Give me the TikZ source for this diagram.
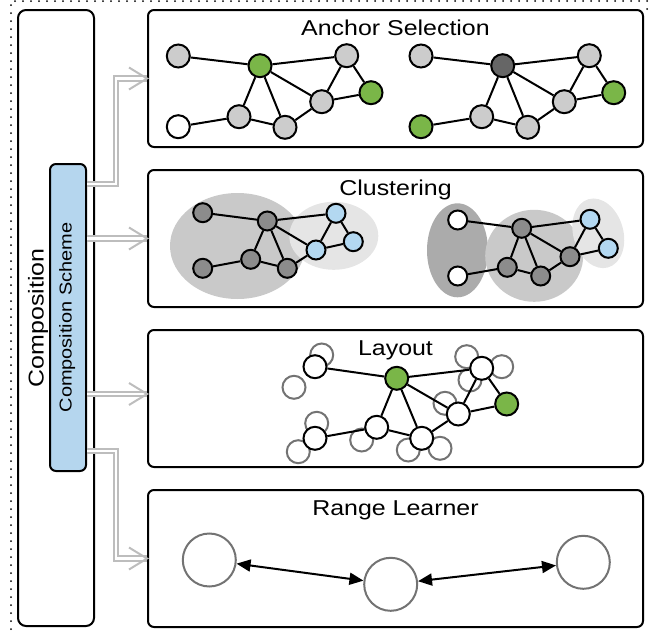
\documentclass[tikz,border=0pt]{standalone}
\usepackage{fontspec}
\setmainfont{Liberation Sans}[FakeStretch=1.16]
\usetikzlibrary{positioning,arrows.meta,shapes.geometric}
\definecolor{vgray}{HTML}{CCCCCC}
\definecolor{vgreen}{HTML}{7AB648}
\definecolor{vdark}{HTML}{666666}
\definecolor{vclus}{HTML}{8C8C8C}
\definecolor{vblue}{HTML}{B3D8F1}
\definecolor{schemeblue}{HTML}{B5D6EE}
\definecolor{flowgray}{HTML}{BDBDBD}
\definecolor{ghostgray}{HTML}{737373}
\definecolor{blobmid}{HTML}{C9C9C9}
\definecolor{bloblight}{HTML}{E5E5E5}
\definecolor{blobdark}{HTML}{ABABAB}

\begin{document}
\begin{tikzpicture}[
  x=1pt, y=-1pt,
  panel/.style={draw,line width=2pt,rounded corners=6pt,minimum width=495pt,minimum height=137pt,inner sep=0pt},
  heading/.style={anchor=base,inner sep=0pt,font=\fontsize{21.5}{25}\selectfont},
  vx/.style={draw,circle,line width=2pt,minimum size=23pt,inner sep=0pt},
  vsm/.style={vx,minimum size=19pt},
  ghost/.style={draw=ghostgray,circle,line width=2pt,minimum size=23pt,inner sep=0pt},
  blob/.style={ellipse,inner sep=0pt},
  link/.style={line width=2pt},
  flow/.style={draw=flowgray,line width=2pt,double=white,double distance=2.8pt},
  flowtip/.style={draw=flowgray,line width=2pt},
  rnode/.style={draw=ghostgray,circle,line width=2pt,minimum size=53pt,inner sep=0pt},
  biarrow/.style={line width=2pt,<->,>={Triangle[length=14pt,width=12pt]}}
]
\useasboundingbox (0,0) rectangle (649,635);
\draw[dash pattern=on 0pt off 8pt,line cap=round,line width=2pt] (647,9) -- (647,1) -- (11,1) -- (11,640);

% left column
\node[draw,line width=2pt,rounded corners=8pt,minimum width=76pt,minimum height=616pt,inner sep=0pt] (comp) at (56,318) {};
\node[rotate=90,anchor=base,inner sep=0pt,font=\fontsize{21.5}{25}\selectfont] (compt) at (43.5,318) {Composition};
\node[draw,fill=schemeblue,line width=2pt,rounded corners=6pt,minimum width=36pt,minimum height=307pt,inner sep=0pt] (scheme) at (68,317.5) {};
\node[rotate=90,anchor=base,inner sep=0pt,font=\fontsize{17.2}{20}\selectfont] (schemet) at (71.5,317.5) {Composition Scheme};

% panels
\node[panel] (sel) at (395.5,78.5) {};
\node[heading] (selt) at ([yshift=-26.5pt]sel.north) {Anchor Selection};
\node[panel] (clus) at (395.5,238.5) {};
\node[heading] (clust) at ([yshift=-26pt]clus.north) {Clustering};
\node[panel] (lay) at (395.5,398.5) {};
\node[heading] (layt) at ([yshift=-26.5pt]lay.north) {Layout};
\node[panel] (rng) at (395.5,558.5) {};
\node[heading] (rngt) at ([yshift=-26.5pt]rng.north) {Range Learner};

% connectors from the scheme
\coordinate (tA) at (sel.west);
\coordinate (tB) at (clus.west);
\coordinate (tC) at ([yshift=4.5pt]lay.west);
\coordinate (tD) at (rng.west);
\coordinate (s1) at ([yshift=-21pt]scheme.north east);
\coordinate (s4) at ([yshift=-288pt]scheme.north east);
\draw[flow] (s1) -| ([xshift=-31pt]tA) -- (tA);
\draw[flow] (scheme.east |- tB) -- (tB);
\draw[flow] (scheme.east |- tC) -- (tC);
\draw[flow] (s4) -| ([xshift=-31pt]tD) -- (tD);
\foreach \t in {tA,tB,tC,tD}
  \draw[flowtip] ([shift={(-18pt,11pt)}]\t) -- (\t) -- ([shift={(-18pt,-11pt)}]\t);

% anchor selection
\node[vx,fill=vgray] (a1) at (178.3,56) {};
\node[vx,fill=vgreen] (a2) at (260,65.7) {};
\node[vx,fill=vgray] (a3) at (346.7,55.7) {};
\node[vx,fill=vgreen] (a4) at (371,92.7) {};
\node[vx,fill=vgray] (a5) at (321.7,101.7) {};
\node[vx,fill=vgray] (a6) at (239,116.7) {};
\node[vx,fill=vgray] (a7) at (285,127.3) {};
\node[vx,fill=white] (a8) at (178.3,126.7) {};
\draw[link] (a1) -- (a2) (a2) -- (a3) (a2) -- (a6) (a2) -- (a7) (a2) -- (a5)
  (a3) -- (a5) (a3) -- (a4) (a4) -- (a5) (a5) -- (a7) (a6) -- (a7) (a6) -- (a8);

\node[vx,fill=vgray] (b1) at (421,56) {};
\node[vx,fill=vdark] (b2) at (502.7,65.7) {};
\node[vx,fill=vgray] (b3) at (589.3,55.7) {};
\node[vx,fill=vgreen] (b4) at (613.7,92.7) {};
\node[vx,fill=vgray] (b5) at (564.3,101.7) {};
\node[vx,fill=vgray] (b6) at (481.7,116.7) {};
\node[vx,fill=vgray] (b7) at (527.7,127.3) {};
\node[vx,fill=vgreen] (b8) at (421,126.7) {};
\draw[link] (b1) -- (b2) (b2) -- (b3) (b2) -- (b6) (b2) -- (b7) (b2) -- (b5)
  (b3) -- (b5) (b3) -- (b4) (b4) -- (b5) (b5) -- (b7) (b6) -- (b7) (b6) -- (b8);

% clustering
\node[blob,fill=blobmid,minimum width=135pt,minimum height=106pt] (k1) at (237.5,246) {};
\node[blob,fill=bloblight,minimum width=89pt,minimum height=68pt] (k2) at (333.8,235.8) {};
\node[vsm,fill=vclus] (c1) at (202.7,212.7) {};
\node[vsm,fill=vclus] (c2) at (267.3,221) {};
\node[vsm,fill=vblue] (c3) at (336,213.3) {};
\node[vsm,fill=vblue] (c4) at (353.3,241.7) {};
\node[vsm,fill=vblue] (c5) at (316,250) {};
\node[vsm,fill=vclus] (c6) at (250.7,259.3) {};
\node[vsm,fill=vclus] (c7) at (287.3,268.3) {};
\node[vsm,fill=vclus] (c8) at (202.7,268.3) {};
\draw[link] (c1) -- (c2) (c2) -- (c3) (c2) -- (c6) (c2) -- (c7) (c2) -- (c5)
  (c3) -- (c5) (c3) -- (c4) (c4) -- (c5) (c5) -- (c7) (c6) -- (c7) (c6) -- (c8);

\node[blob,fill=blobdark,minimum width=61pt,minimum height=94pt] (k3) at (457.5,250.3) {};
\node[blob,fill=blobmid,minimum width=98pt,minimum height=92pt] (k4) at (534.2,255.8) {};
\node[blob,fill=bloblight,minimum width=50pt,minimum height=71pt,rotate=16] (k5) at (598.3,233.3) {};
\node[vsm,fill=white] (d1) at (457.7,220) {};
\node[vsm,fill=vclus] (d2) at (521.7,228.3) {};
\node[vsm,fill=vblue] (d3) at (590,219.3) {};
\node[vsm,fill=vblue] (d4) at (608.3,248.3) {};
\node[vsm,fill=vclus] (d5) at (570,256.7) {};
\node[vsm,fill=vclus] (d6) at (507.3,267.3) {};
\node[vsm,fill=vclus] (d7) at (540.7,276) {};
\node[vsm,fill=white] (d8) at (457.7,276) {};
\draw[link] (d1) -- (d2) (d2) -- (d3) (d2) -- (d6) (d2) -- (d7) (d2) -- (d5)
  (d3) -- (d5) (d3) -- (d4) (d4) -- (d5) (d5) -- (d7) (d6) -- (d7) (d6) -- (d8);

% layout
\node[ghost] (g1) at (321.7,355) {};
\node[ghost] (g2) at (294,387.3) {};
\node[ghost] (g3) at (466.7,356.7) {};
\node[ghost] (g4) at (501.7,366.7) {};
\node[ghost] (g5) at (470,380) {};
\node[ghost] (g6) at (445,403.3) {};
\node[ghost] (g7) at (316.7,423.3) {};
\node[ghost] (g8) at (298.3,451.7) {};
\node[ghost] (g9) at (361.7,440) {};
\node[ghost] (g10) at (408.3,450) {};
\node[ghost] (g11) at (440,448.3) {};
\node[vx,fill=white] (e1) at (315,366.7) {};
\node[vx,fill=vgreen] (e2) at (396.7,378.3) {};
\node[vx,fill=white] (e3) at (481.7,368.3) {};
\node[vx,fill=vgreen] (e4) at (506.7,404) {};
\node[vx,fill=white] (e5) at (458.3,414) {};
\node[vx,fill=white] (e6) at (376.7,427.3) {};
\node[vx,fill=white] (e7) at (421.7,438.3) {};
\node[vx,fill=white] (e8) at (315,438.3) {};
\draw[link] (e1) -- (e2) (e2) -- (e3) (e2) -- (e6) (e2) -- (e7) (e2) -- (e5)
  (e3) -- (e5) (e3) -- (e4) (e4) -- (e5) (e5) -- (e7) (e6) -- (e7) (e6) -- (e8);

% range learner
\node[rnode] (r1) at (209.3,560) {};
\node[rnode] (r2) at (390.7,584.3) {};
\node[rnode] (r3) at (583.3,562.3) {};
\draw[biarrow] (r1) -- (r2);
\draw[biarrow] (r2) -- (r3);
\end{tikzpicture}
\end{document}
